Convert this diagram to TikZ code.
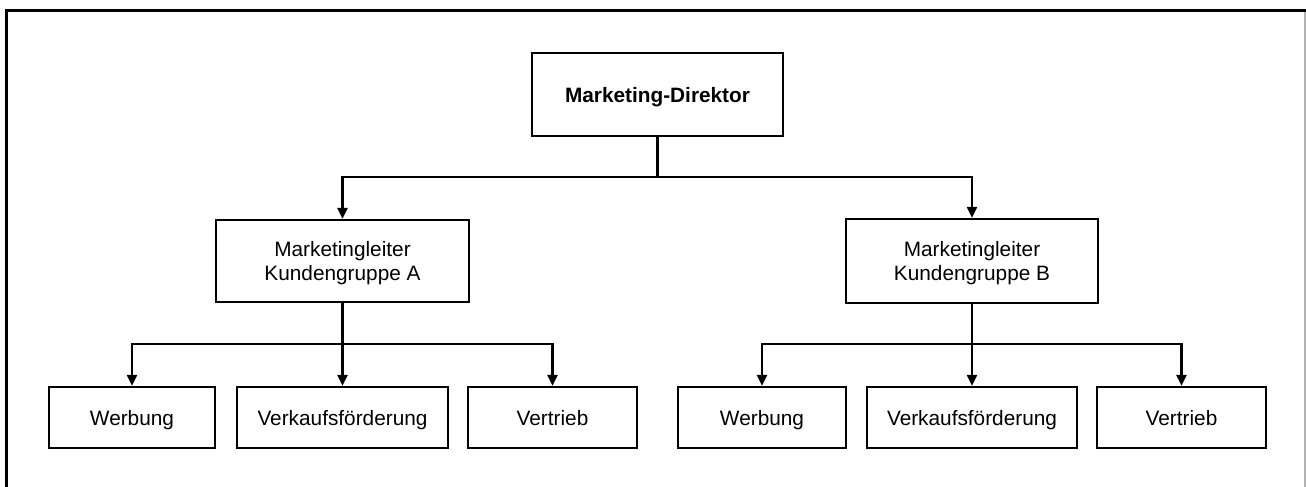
\documentclass[tikz,border=0pt]{standalone}
\usepackage{fontspec}
\setmainfont{Liberation Sans}
\usetikzlibrary{arrows.meta}
\begin{document}
\begin{tikzpicture}[x=1pt,y=-1pt,
  box/.style={draw,line width=2.2pt,inner sep=0pt,align=center,text depth=0pt,font=\fontsize{20.8}{24}\selectfont},
  conn/.style={line width=2.2pt},
  arr/.style={conn,-{Triangle[length=11pt,width=10pt]}}]
\useasboundingbox (0,0) rectangle (1306,487);
% frame
\draw[line width=3.3pt,line cap=rect] (6.7,490) -- (6.7,10.7) -- (1310,10.7);
\draw[line width=1.2pt,gray!60] (1305,12.3) -- (1305,490);
% nodes
\node[box,minimum width=251pt,minimum height=83pt,font=\fontsize{20.8}{24}\selectfont\bfseries] (dir) at (657.5,94.5) {Marketing-Direktor};
\node[box,minimum width=253pt,minimum height=82pt] (A) at (342.5,261) {Marketingleiter\\Kundengruppe A};
\node[box,minimum width=252pt,minimum height=84pt] (B) at (972,261) {Marketingleiter\\Kundengruppe B};
\node[box,minimum width=166pt,minimum height=61pt] (wa) at (132,417.5) {Werbung};
\node[box,minimum width=211pt,minimum height=61pt] (va) at (342.5,417.5) {Verkaufsförderung};
\node[box,minimum width=169pt,minimum height=61pt] (ta) at (552.5,417.5) {Vertrieb};
\node[box,minimum width=168pt,minimum height=61pt] (wb) at (762,417.5) {Werbung};
\node[box,minimum width=210pt,minimum height=61pt] (vb) at (972,417.5) {Verkaufsförderung};
\node[box,minimum width=169pt,minimum height=61pt] (tb) at (1181.5,417.5) {Vertrieb};
% junctions
\coordinate (j0) at (657.5,177);
\coordinate (ja) at (342.5,344);
\coordinate (jb) at (972,344);
% connectors
\draw[conn] (dir.south) -- (j0);
\draw[arr] (j0) -| (A.north);
\draw[arr] (j0) -| (B.north);
\draw[conn] (A.south) -- (ja);
\draw[arr] (ja) -| (wa.north);
\draw[arr] (ja) -- (va.north);
\draw[arr] (ja) -| (ta.north);
\draw[conn] (B.south) -- (jb);
\draw[arr] (jb) -| (wb.north);
\draw[arr] (jb) -- (vb.north);
\draw[arr] (jb) -| (tb.north);
\end{tikzpicture}
\end{document}
